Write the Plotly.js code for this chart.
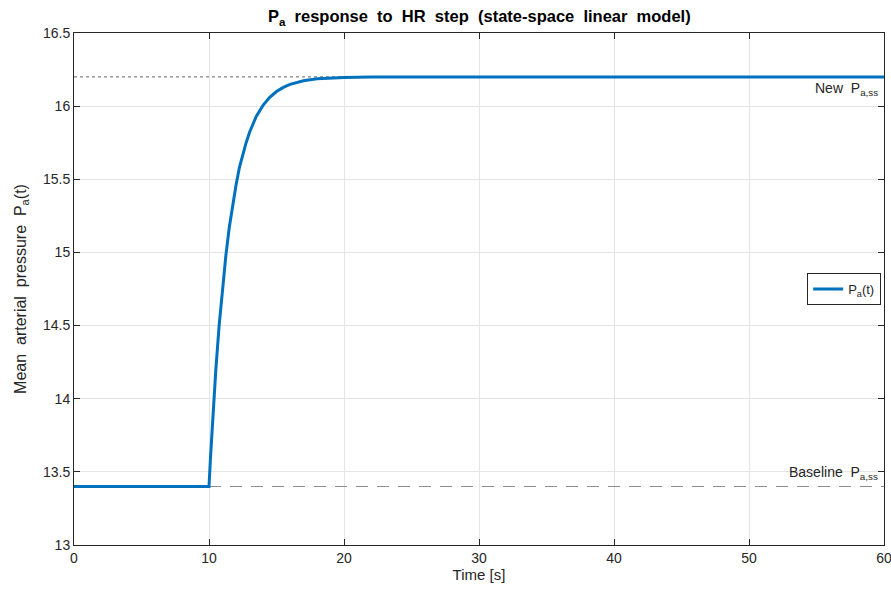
<!DOCTYPE html>
<html>
<head>
<meta charset="utf-8">
<script src="https://cdn.plot.ly/plotly-3.0.1.min.js"></script>
<style>html,body{margin:0;padding:0;background:#fff;}#chart{width:891px;height:591px;}</style>
</head>
<body>
<div id="chart"></div>
<script>
// Pa(t)
const timeS = [0, 10, 10.1, 10.25, 10.5, 10.75, 11, 11.25, 11.5, 11.75, 12, 12.25, 12.5, 12.75, 13, 13.5, 14, 14.5, 15, 15.5, 16, 17, 18, 19, 20, 22, 25, 30, 40, 50, 60];
const pressure = [13.40, 13.40, 13.58, 13.83, 14.19, 14.50, 14.76, 14.98, 15.17, 15.33, 15.46, 15.58, 15.67, 15.75, 15.82, 15.93, 16.005, 16.06, 16.10, 16.128, 16.149, 16.174, 16.187, 16.193, 16.196, 16.199, 16.20, 16.20, 16.20, 16.20, 16.20];
const newSteady = 16.2;
const baseline = 13.4;
const refNewX = [0, 60];
const refBaseX = [10, 60];
const xTicks = [0, 10, 20, 30, 40, 50, 60];
const yTicks = [13, 13.5, 14, 14.5, 15, 15.5, 16, 16.5];

const txt = '#262626';
const fam = 'Liberation Sans, Arial, sans-serif';
const traces = [
  {x: refNewX, y: [newSteady, newSteady], mode: 'lines', line: {color: '#666666', width: 1, dash: 'dot'}, showlegend: false, hoverinfo: 'skip'},
  {x: refBaseX, y: [baseline, baseline], mode: 'lines', line: {color: '#8c8c8c', width: 1, dash: '12px,9px'}, showlegend: false, hoverinfo: 'skip'},
  {x: timeS, y: pressure, mode: 'lines', name: 'P<sub>a</sub>(t)', line: {color: '#0072BD', width: 3, shape: 'linear'}}
];

const axisCommon = {
  showline: true, linecolor: '#262626', linewidth: 1, mirror: 'ticks',
  ticks: 'inside', ticklen: 6, tickcolor: '#262626', tickwidth: 1,
  showgrid: true, gridcolor: '#e5e5e5', gridwidth: 1, zeroline: false,
  ticklabeloverflow: 'allow',
  tickfont: {family: fam, size: 14, color: txt}
};

const layout = {
  width: 891, height: 591,
  margin: {l: 74, r: 7, t: 33, b: 46},
  paper_bgcolor: '#ffffff', plot_bgcolor: '#ffffff',
  title: {text: '<b>P<sub>a</sub>&nbsp; response&nbsp; to&nbsp; HR&nbsp; step&nbsp; (state-space&nbsp; linear&nbsp; model)</b>', x: 0.538, xanchor: 'center', y: 0.972, yanchor: 'middle',
          font: {family: fam, size: 16.5, color: '#000'}},
  xaxis: Object.assign({}, axisCommon, {range: [0, 60], tickvals: xTicks, ticktext: xTicks.map(String),
          title: {text: 'Time [s]', standoff: 4, font: {family: fam, size: 15, color: txt}}}),
  yaxis: Object.assign({}, axisCommon, {range: [13, 16.5], tickvals: yTicks, ticktext: yTicks.map(String),
          title: {text: 'Mean&nbsp; arterial&nbsp; pressure&nbsp; P<sub>a</sub>(t)', standoff: 12, font: {family: fam, size: 16, color: txt}}}),
  legend: {x: 0.9965, xanchor: 'right', y: 0.5, yanchor: 'middle', bgcolor: '#ffffff', bordercolor: '#262626', borderwidth: 1,
           font: {family: fam, size: 13, color: txt}},
  annotations: [
    {x: 60, y: 16.115, xref: 'x', yref: 'y', xanchor: 'right', yanchor: 'middle', xshift: -4, showarrow: false,
     text: 'New&nbsp; P<sub>a,ss</sub>', font: {family: fam, size: 14, color: txt}},
    {x: 60, y: 13.49, xref: 'x', yref: 'y', xanchor: 'right', yanchor: 'middle', xshift: -4, showarrow: false,
     text: 'Baseline&nbsp; P<sub>a,ss</sub>', font: {family: fam, size: 14, color: txt}}
  ]
};

Plotly.newPlot('chart', traces, layout, {displayModeBar: false, staticPlot: true});
</script>
</body>
</html>
